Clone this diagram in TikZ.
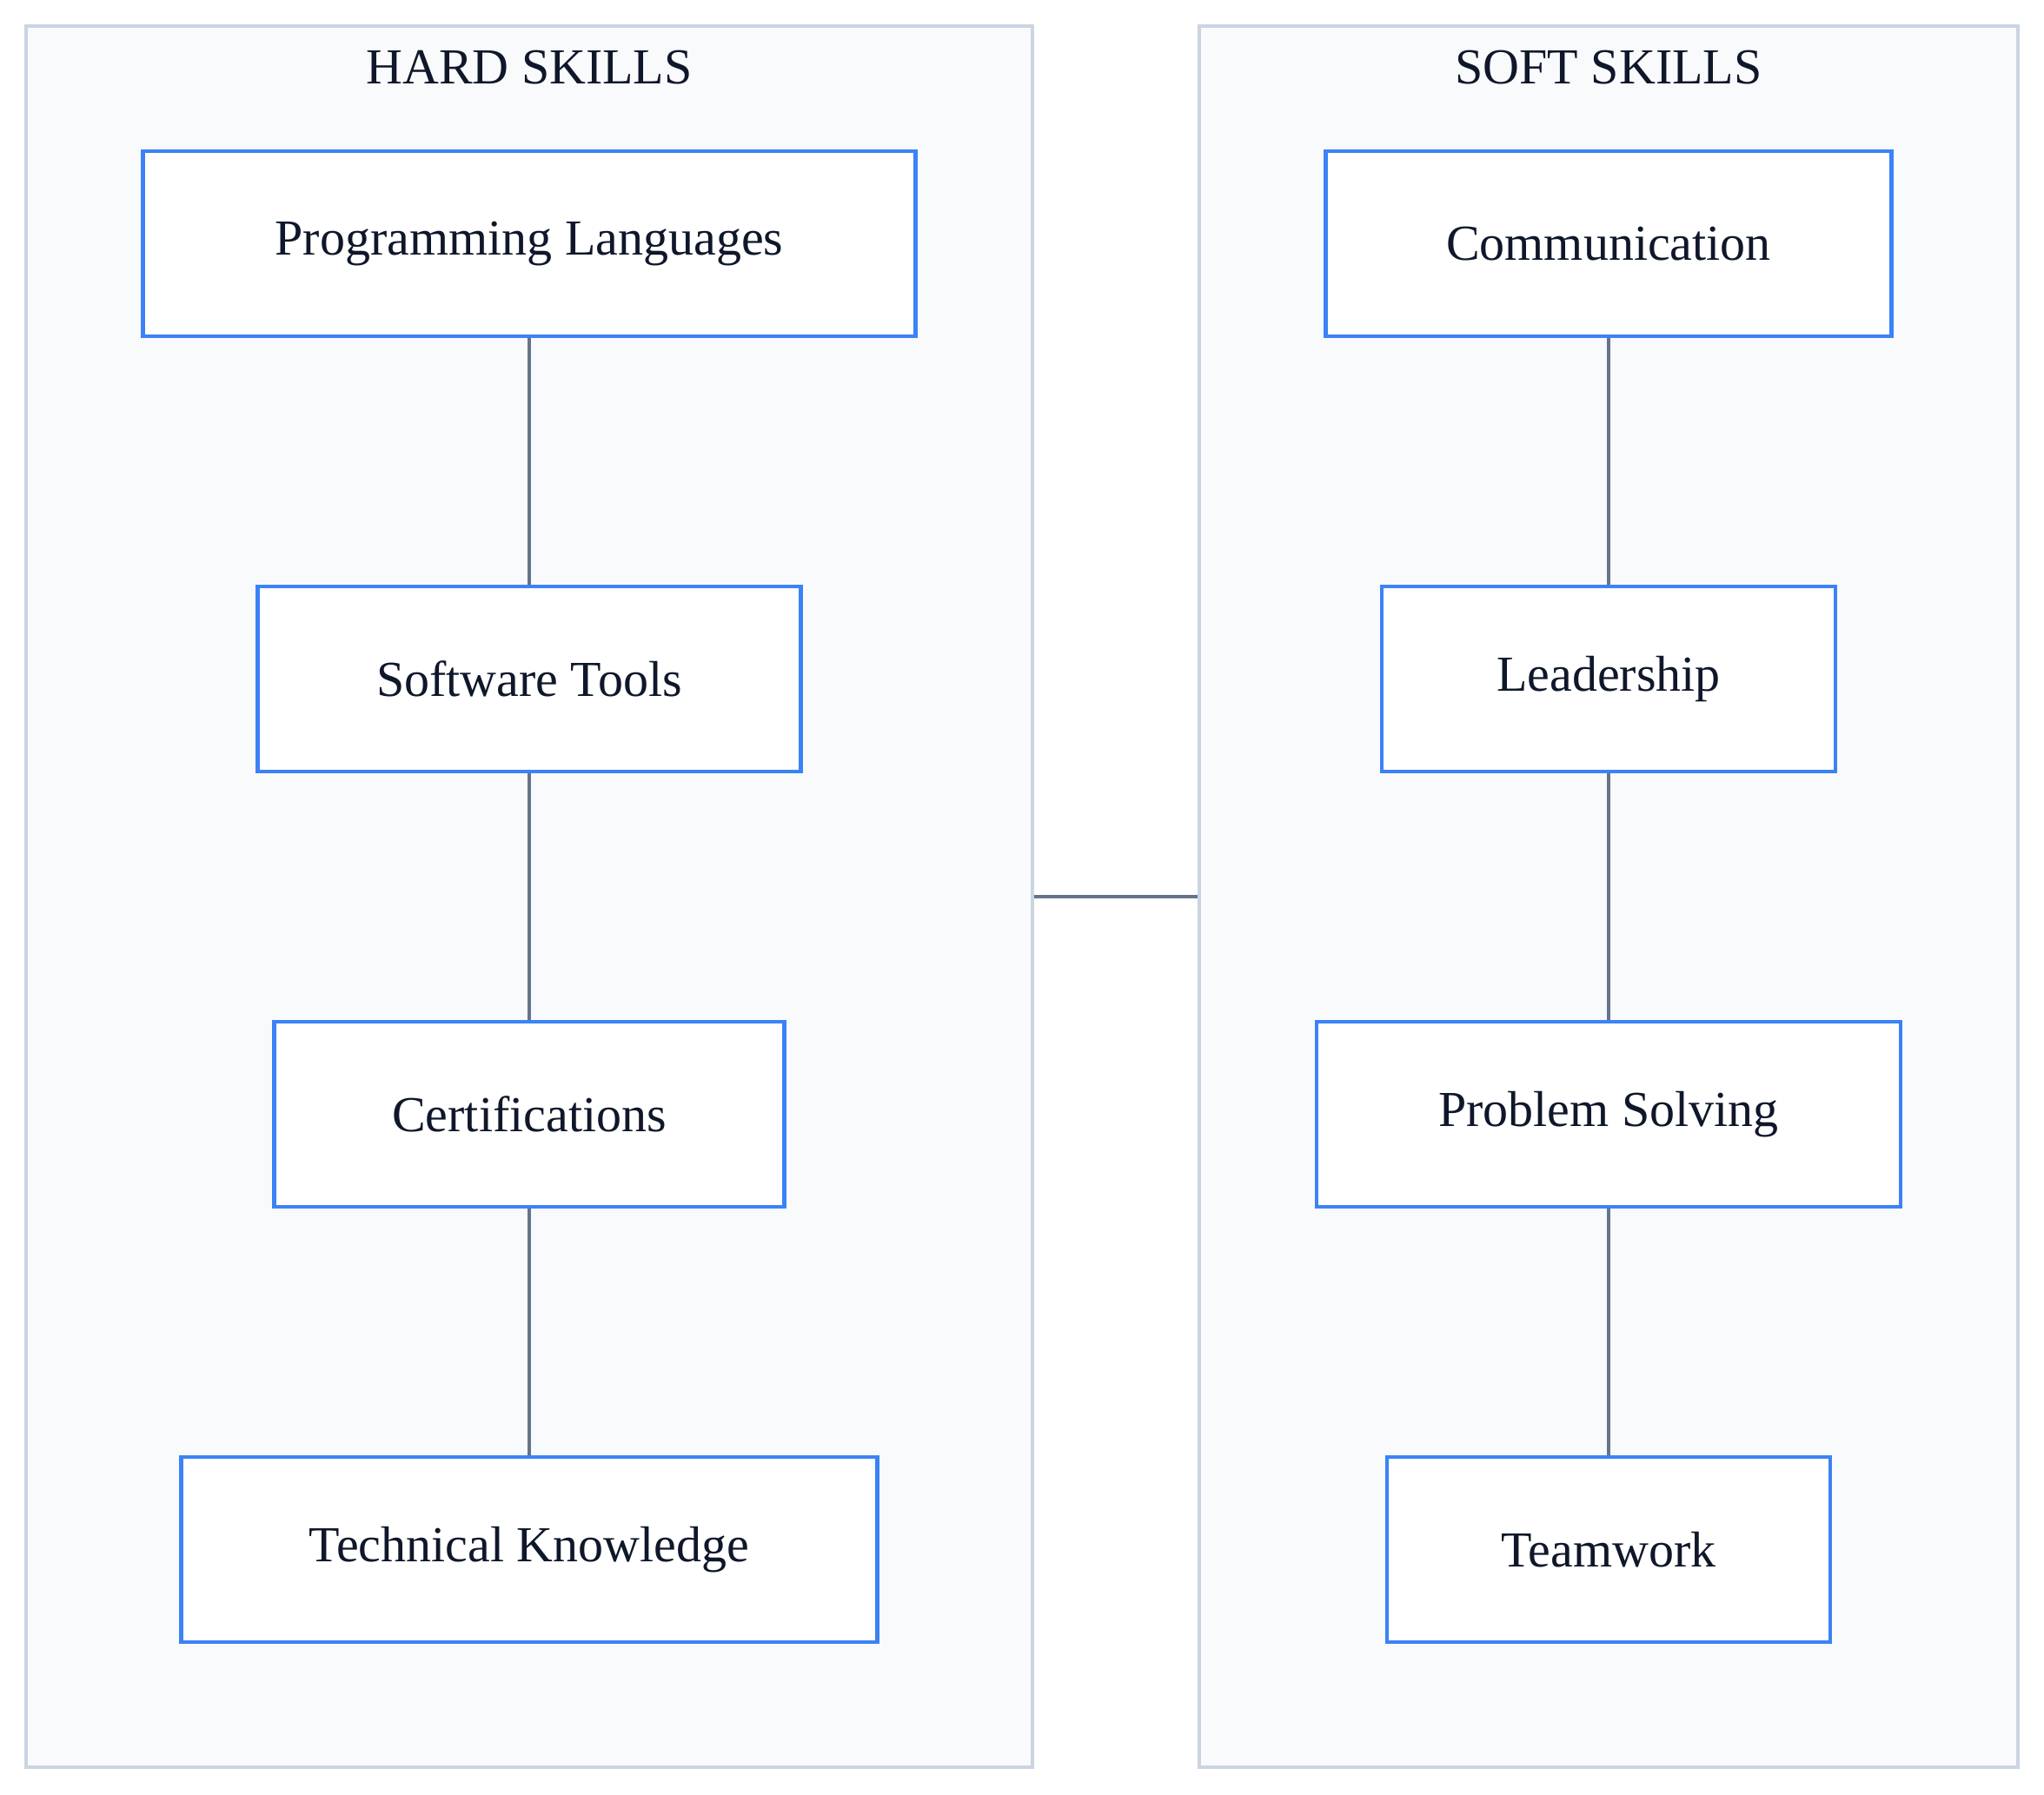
\documentclass[tikz,border=0pt]{standalone}
\usepackage{fontspec}
\setmainfont{Liberation Serif}
\definecolor{clusterfill}{HTML}{F8FAFC}
\definecolor{clusterline}{HTML}{CBD5E1}
\definecolor{boxline}{HTML}{3B82F6}
\definecolor{linkgray}{HTML}{64748B}
\definecolor{inkdark}{HTML}{0F172A}
\tikzset{
  cluster/.style={draw=clusterline, fill=clusterfill, line width=0.8pt, inner sep=0pt},
  skill/.style={draw=boxline, fill=white, line width=0.9pt, minimum height=1.42cm,
    text=inkdark, font=\fontsize{11}{13}\selectfont},
  title/.style={text=inkdark, font=\fontsize{11}{13}\selectfont},
  link/.style={draw=linkgray, line width=0.9pt}
}
\begin{document}
\begin{tikzpicture}
\useasboundingbox (0,0) rectangle (15.68,-13.77);
% clusters
\node[cluster, minimum width=7.72cm, minimum height=13.36cm] (hard) at (4.06,-6.88) {};
\node[cluster, minimum width=6.28cm, minimum height=13.36cm] (soft) at (12.34,-6.88) {};
\node[title] (hardtitle) at (4.06,-0.52) {HARD SKILLS};
\node[title] (softtitle) at (12.34,-0.52) {SOFT SKILLS};
% hard skills
\node[skill, minimum width=5.93cm] (prog) at (4.06,-1.87) {Programming Languages};
\node[skill, minimum width=4.17cm] (tools) at (4.06,-5.21) {Software Tools};
\node[skill, minimum width=3.91cm] (cert) at (4.06,-8.55) {Certifications};
\node[skill, minimum width=5.34cm] (tech) at (4.06,-11.89) {Technical Knowledge};
% soft skills
\node[skill, minimum width=4.34cm] (comm) at (12.34,-1.87) {Communication};
\node[skill, minimum width=3.48cm] (lead) at (12.34,-5.21) {Leadership};
\node[skill, minimum width=4.48cm] (prob) at (12.34,-8.55) {Problem Solving};
\node[skill, minimum width=3.40cm] (team) at (12.34,-11.89) {Teamwork};
% links
\draw[link] (prog) -- (tools);
\draw[link] (tools) -- (cert);
\draw[link] (cert) -- (tech);
\draw[link] (comm) -- (lead);
\draw[link] (lead) -- (prob);
\draw[link] (prob) -- (team);
\draw[link] (hard.east) -- (soft.west);
\end{tikzpicture}
\end{document}
